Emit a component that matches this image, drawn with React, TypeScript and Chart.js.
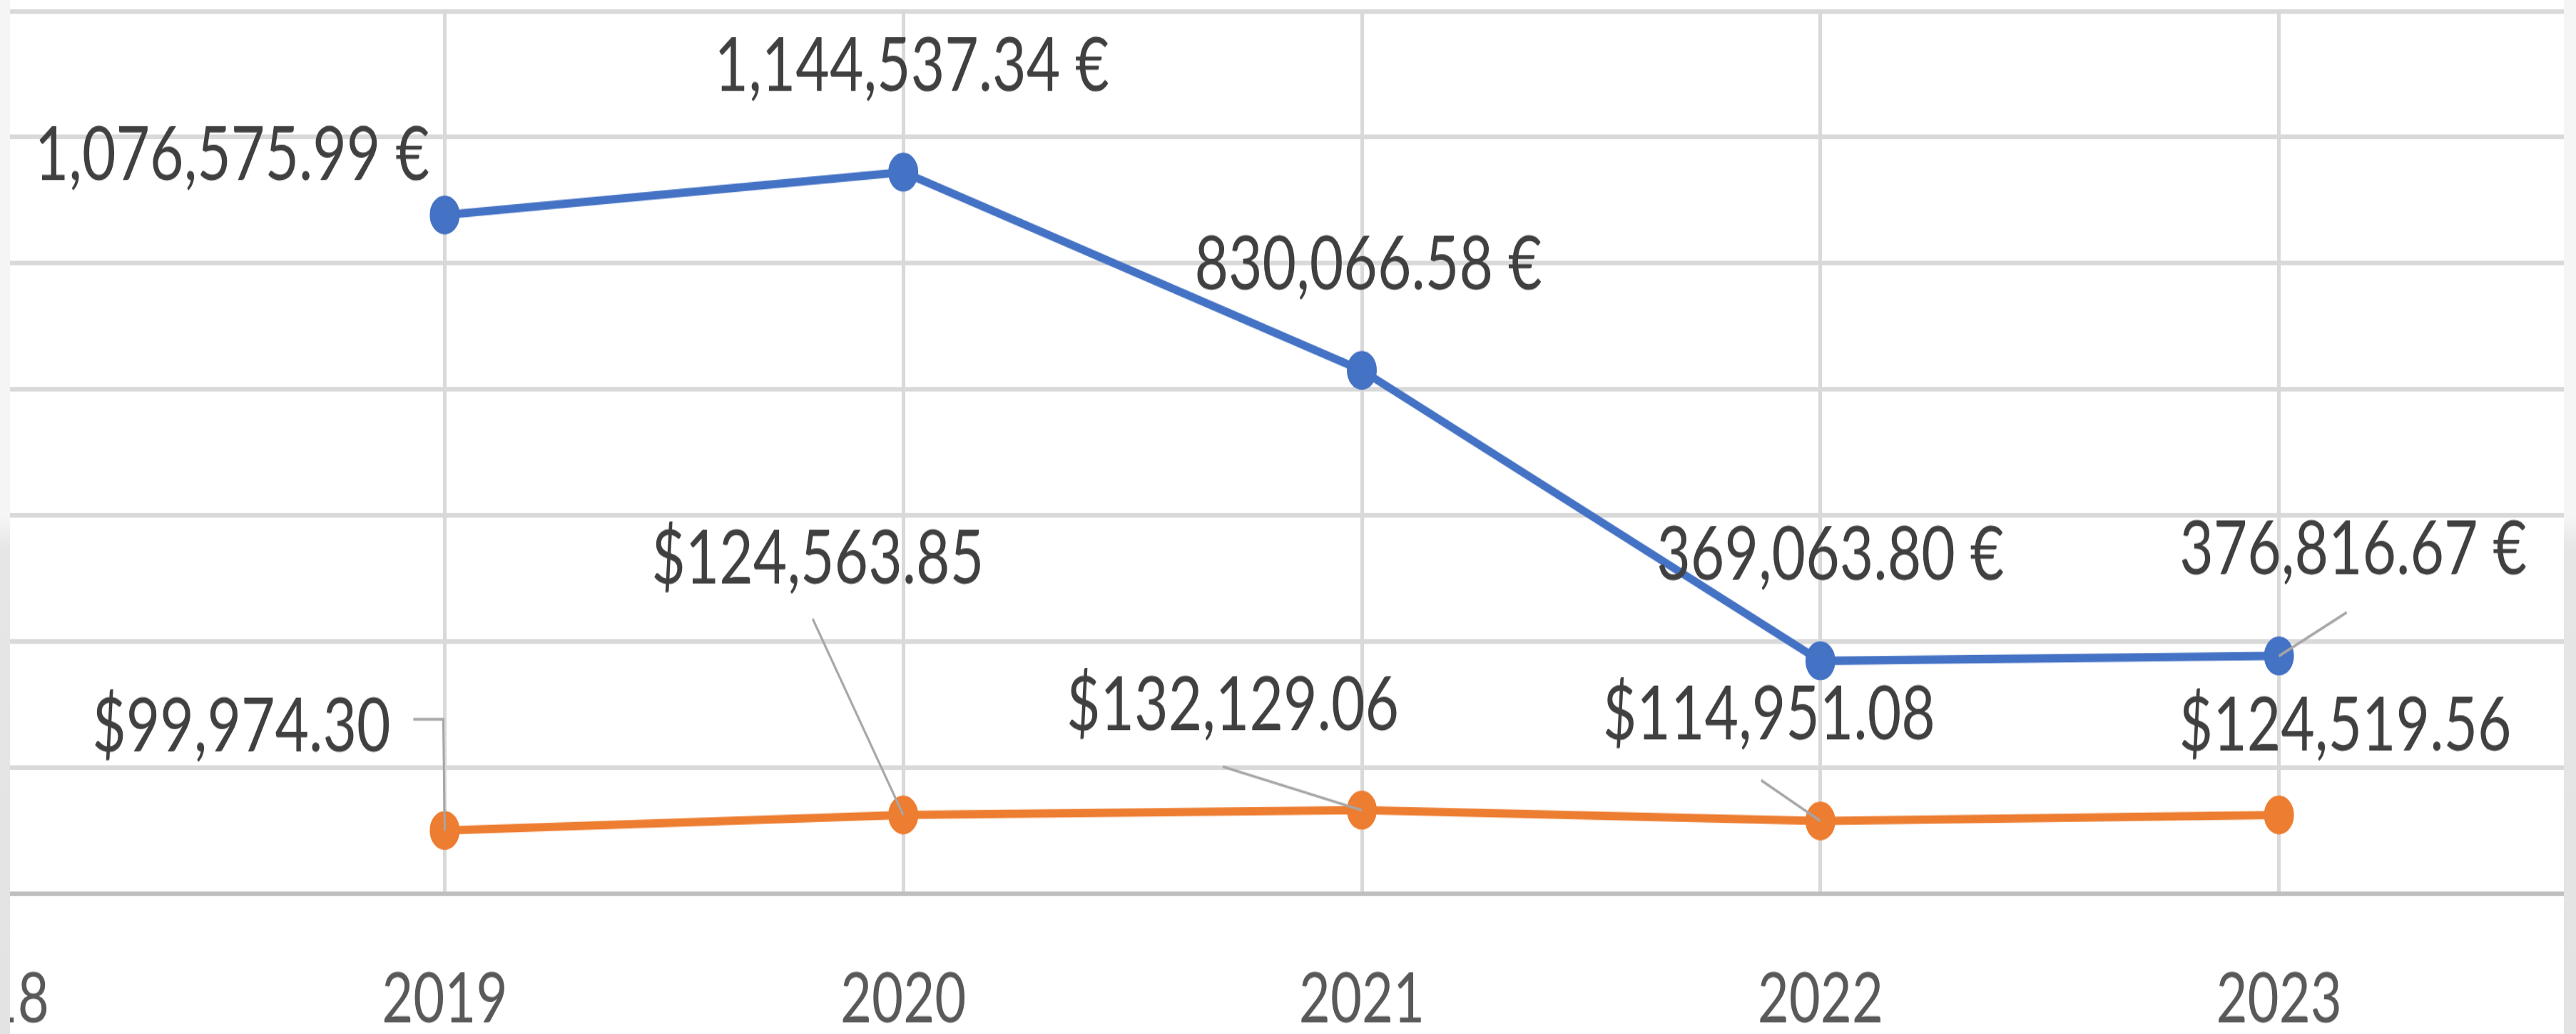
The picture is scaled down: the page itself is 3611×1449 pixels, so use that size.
import React, { useEffect, useRef } from 'react';
import { Chart, registerables } from 'chart.js';

Chart.register(...registerables);

// ---------- data ----------
const categories = ['2018', '2019', '2020', '2021', '2022', '2023', '2024'];
const euroValues: (number | null)[] = [null, 1076575.99, 1144537.34, 830066.58, 369063.8, 376816.67, null];
const usdValues: (number | null)[] = [null, 99974.3, 124563.85, 132129.06, 114951.08, 124519.56, null];
const yMin = 0;
const yMax = 1400000;
const yStep = 200000;

// ---------- label placement (offsets from each point, in px) ----------
const euroLabelOffsets: ([number, number] | null)[] = [null, [-298, -83], [12, -148], [9, -148], [14, -148], [104, -149], null];
const usdLabelOffsets: ([number, number] | null)[] = [null, [-285, -145], [-120, -359], [-181, -146], [-72, -149], [93, -125], null];
const euroLeaders: ([number, number][] | null)[] = [null, null, null, null, null, [[0, 0], [95, -61]], null];
const usdLeaders: ([number, number][] | null)[] = [
  null,
  [[0, 0], [-2, -156], [-44, -156]],
  [[0, 0], [-127, -275]],
  [[0, 0], [-195, -61]],
  [[0, 0], [-83, -57]],
  null,
  null,
];

// ---------- layout / style ----------
const STRETCH = 1.3;
const PAD_X = 150;
const CANVAS_W = 4170;
const CANVAS_H = 1200;
const LABEL_FONT = 82;
const TICK_FONT = 76;
const FONT_FAMILY = 'Lato, "Open Sans", sans-serif';

const fmt2 = (v: number) =>
  v.toLocaleString('en-US', { minimumFractionDigits: 2, maximumFractionDigits: 2 });
const euroFmt = (v: number) => `${fmt2(v)} €`;
const usdFmt = (v: number) => `$${fmt2(v)}`;

const labelPlugin = {
  id: 'valueLabels',
  afterDatasetsDraw(chart: any) {
    const ctx: CanvasRenderingContext2D = chart.ctx;
    const offsets = [euroLabelOffsets, usdLabelOffsets];
    const leaders = [euroLeaders, usdLeaders];
    const formats = [euroFmt, usdFmt];
    ctx.save();
    // leader lines
    ctx.strokeStyle = '#a6a6a6';
    ctx.lineWidth = 3;
    chart.data.datasets.forEach((ds: any, di: number) => {
      const meta = chart.getDatasetMeta(di);
      meta.data.forEach((pt: any, i: number) => {
        const path = leaders[di][i];
        if (!path || ds.data[i] == null) return;
        ctx.beginPath();
        path.forEach(([dx, dy], k) => {
          const x = pt.x + dx;
          const y = pt.y + dy / STRETCH;
          if (k === 0) ctx.moveTo(x, y);
          else ctx.lineTo(x, y);
        });
        ctx.stroke();
      });
    });
    // labels
    ctx.font = `${LABEL_FONT}px ${FONT_FAMILY}`;
    ctx.fillStyle = '#404040';
    ctx.textAlign = 'center';
    ctx.textBaseline = 'middle';
    chart.data.datasets.forEach((ds: any, di: number) => {
      const meta = chart.getDatasetMeta(di);
      meta.data.forEach((pt: any, i: number) => {
        const v = ds.data[i];
        const off = offsets[di][i];
        if (v == null || !off) return;
        ctx.fillText(formats[di](v), pt.x + off[0], pt.y + off[1] / STRETCH);
      });
    });
    ctx.restore();
  },
};

export default function App() {
  const canvasRef = useRef<HTMLCanvasElement | null>(null);

  useEffect(() => {
    if (!canvasRef.current) return;
    const chart = new Chart(canvasRef.current, {
      type: 'line',
      data: {
        labels: categories,
        datasets: [
          {
            label: 'EUR',
            data: euroValues,
            borderColor: '#4472C4',
            backgroundColor: '#4472C4',
            borderWidth: 9,
            pointRadius: 20,
            pointBorderWidth: 2,
            pointBackgroundColor: '#4472C4',
            pointBorderColor: '#4472C4',
            tension: 0,
          },
          {
            label: 'USD',
            data: usdValues,
            borderColor: '#ED7D31',
            backgroundColor: '#ED7D31',
            borderWidth: 9,
            pointRadius: 20,
            pointBorderWidth: 2,
            pointBackgroundColor: '#ED7D31',
            pointBorderColor: '#ED7D31',
            tension: 0,
          },
        ],
      },
      options: {
        animation: false,
        responsive: false,
        devicePixelRatio: 1,
        layout: {
          autoPadding: false,
          padding: { left: PAD_X, right: PAD_X, top: 12, bottom: 8.9 },
        },
        plugins: {
          legend: { display: false },
          tooltip: { enabled: false },
          title: { display: false },
        },
        scales: {
          x: {
            type: 'category',
            offset: false,
            grid: {
              display: true,
              color: '#d9d9d9',
              lineWidth: 5,
              drawTicks: false,
            },
            border: { display: true, color: '#bfbfbf', width: 5 },
            ticks: {
              color: '#595959',
              font: { family: FONT_FAMILY, size: TICK_FONT },
              padding: 68.4,
              maxRotation: 0,
              minRotation: 0,
              autoSkip: false,
            },
          },
          y: {
            type: 'linear',
            min: yMin,
            max: yMax,
            grid: {
              color: (c: any) => (c.tick && c.tick.value === 0 ? '#bfbfbf' : '#d9d9d9'),
              lineWidth: 5,
              drawTicks: false,
            },
            border: { display: false },
            ticks: { display: false, stepSize: yStep },
          },
        },
      },
      plugins: [labelPlugin],
    });
    return () => chart.destroy();
  }, []);

  return (
    <div
      style={{
        position: 'fixed',
        left: 0,
        top: 0,
        width: 3611,
        height: 1449,
        overflow: 'hidden',
        background: 'linear-gradient(to bottom, #f4f5f4 0%, #f4f5f4 50%, #e6e6e6 53%, #e3e3e3 100%)',
      }}
    >
      <div
        style={{
          position: 'absolute',
          left: 14,
          top: 0,
          width: 3580,
          height: 1449,
          overflow: 'hidden',
          background: '#ffffff',
        }}
      >
        <div
          style={{
            position: 'absolute',
            left: -40 - PAD_X,
            top: 0,
            width: CANVAS_W,
            height: CANVAS_H,
            transform: `scaleY(${STRETCH})`,
            transformOrigin: '0 0',
          }}
        >
          <canvas ref={canvasRef} width={CANVAS_W} height={CANVAS_H} />
        </div>
      </div>
    </div>
  );
}
